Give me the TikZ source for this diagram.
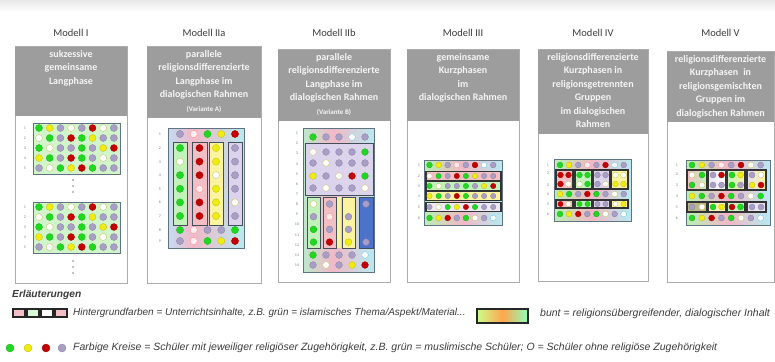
\documentclass[tikz,border=0pt]{standalone}
\usepackage{fontspec}
\setmainfont{Carlito}
\newfontfamily\legendfont{Liberation Sans}

\definecolor{cgreen}{HTML}{1FD81F}
\definecolor{cyellow}{HTML}{F0EC10}
\definecolor{cred}{HTML}{C40000}
\definecolor{clav}{HTML}{A99FC6}
\definecolor{hgray}{HTML}{9D9D9D}
\definecolor{bggreen}{HTML}{D2F4CA}
\definecolor{slate}{HTML}{5F7382}
\definecolor{bxgreen}{HTML}{C2F2BA}
\definecolor{bxpink}{HTML}{F2C0C4}
\definecolor{bxyellow}{HTML}{FBF3A0}
\definecolor{bxlav}{HTML}{DCD3EC}
\definecolor{bxblue}{HTML}{4C72C9}
\definecolor{bgblue}{HTML}{C4DCF2}
\definecolor{bgcyan}{HTML}{B8EAF0}
\definecolor{bgpink}{HTML}{F2B8C6}
\definecolor{bglime}{HTML}{B8F0B4}
\definecolor{txtgray}{HTML}{3C3C3C}

\tikzset{
  pupil/.style={line width=0.3pt},
  pg/.style={pupil, fill=cgreen, draw=cgreen!80!black},
  py/.style={pupil, fill=cyellow, draw=cyellow!80!black},
  pr/.style={pupil, fill=cred, draw=cred!80!black},
  pl/.style={pupil, fill=clav, draw=clav!80!black},
  po/.style={pupil, fill=white, draw=olive!55},
  pc/.style={pupil, fill=white, draw=cyan!70},
  pp/.style={pupil, fill=white!75!bgpink, draw=red!45},
  pn/.style={},
  panelbox/.style={draw=gray!65, line width=1pt, fill=white},
  headbox/.style={fill=hgray},
  title/.style={font=\fontsize{10.5}{12}\selectfont, text=txtgray},
  headtext/.style={font=\bfseries\fontsize{10}{13.5}\selectfont, text=white!90!hgray,
    align=center, inner sep=0pt},
  gridbox/.style={draw=slate, line width=0.9pt},
  colbox/.style={draw=slate!70!black, line width=0.8pt},
  darkbox/.style={draw=black!80, line width=1.2pt},
  num/.style={font=\fontsize{4}{4}\selectfont, text=gray, inner sep=0pt},
  legendhead/.style={font=\legendfont\bfseries\itshape\fontsize{10.2}{12}\selectfont,
    text=txtgray, inner sep=0pt},
  legendtext/.style={font=\legendfont\itshape\fontsize{10.5}{12}\selectfont,
    text=txtgray, inner sep=0pt},
  legsq/.style={draw=black!85, line width=1.6pt}
}

% x0, y0, dx, dy, radius, list of pupil styles
\newcommand{\pupils}[6]{%
  \foreach \col [count=\i from 0] in {#6}
    {\path[\col] ({#1+\i*#3},{#2+\i*#4}) circle[radius=#5pt];}}
% x, name prefix, list of y
\newcommand{\rownums}[3]{%
  \foreach \yy [count=\k] in {#3}
    {\node[num] (#2\k) at (#1,\yy) {\k};}}
% name, x1, x2, top, header bottom, bottom, title, header text
\newcommand{\panel}[8]{%
  \draw[panelbox] (#2,#4) rectangle (#3,#6);
  \fill[headbox] (#2,#4) rectangle (#3,#5);
  \node[title] (t#1) at ({(#2+#3)/2},33) {#7};
  \node[headtext, anchor=north] (h#1) at ({(#2+#3)/2},#4+3) {#8};}
% class grid of Modell I: top y, name prefix
\newcommand{\classgrid}[2]{%
  \path[gridbox, fill=bggreen] (33,#1) rectangle (120,#1+51);
  \rownums{25}{#2}{#1+5,#1+15,#1+25,#1+35,#1+45}
  \pupils{39}{#1+5}{10.7}{0}{3.5}{pg,py,pl,po,pl,pr,po,pl}
  \pupils{39}{#1+15}{10.7}{0}{3.5}{po,pg,pl,pr,pg,py,pl,pl}
  \pupils{39}{#1+25}{10.7}{0}{3.5}{pg,po,pl,pl,pg,pl,py,pr}
  \pupils{39}{#1+35}{10.7}{0}{3.5}{py,pg,pl,pr,pg,pl,po,pl}
  \pupils{39}{#1+45}{10.7}{0}{3.5}{pl,po,pg,py,pr,pg,pl,pl}}

\begin{document}
\begin{tikzpicture}[x=1pt,y=-1pt]
\useasboundingbox (0,0) rectangle (775,361);
\fill[white] (0,0) rectangle (775,361);
\shade[top color=gray!18, bottom color=white] (0,0) rectangle (775,12);

% panels
\panel{I}{15}{127}{47}{116}{283}{Modell I}{sukzessive\\gemeinsame\\Langphase}
\panel{IIa}{147}{261}{47}{118}{283}{Modell IIa}{parallele\\religionsdifferenzierte\\Langphase im\\dialogischen Rahmen\\{\fontsize{7}{9}\selectfont(Variante A)}}
\panel{IIb}{278}{390}{50}{121}{282}{Modell IIb}{parallele\\religionsdifferenzierte\\Langphase im\\dialogischen Rahmen\\{\fontsize{7}{9}\selectfont(Variante B)}}
\panel{III}{407}{519}{50}{121}{282}{Modell III}{gemeinsame\\Kurzphasen\\im\\dialogischen Rahmen}
\panel{IV}{538}{648}{50}{134}{281}{Modell IV}{religionsdifferenzierte\\Kurzphasen in\\religionsgetrennten\\Gruppen\\im dialogischen\\Rahmen}
\panel{V}{667}{774}{52}{122}{282}{Modell V}{religionsdifferenzierte\\Kurzphasen\enspace in\\religionsgemischten\\Gruppen im\\dialogischen Rahmen}

% Modell I
\classgrid{123}{nIa}
\classgrid{202}{nIb}
\foreach \yy in {180,186,192,261,267,273}
  \fill[gray] (73,\yy) circle[radius=0.8pt];

% Modell IIa
\shade[left color=bgblue, right color=bgpink] (168,128) rectangle (193,248);
\shade[left color=bgpink, right color=bgcyan] (193,128) rectangle (244,248);
\draw[gridbox] (168,128) rectangle (244,248);
\rownums{160}{nIIa}{134,148,162,175,189,202,216,230,241}
\draw[colbox, fill=bxgreen] (173,142) rectangle (187,225);
\draw[colbox, fill=bxpink] (192,142) rectangle (207,225);
\draw[colbox, fill=bxyellow] (209,142) rectangle (223,225);
\draw[colbox, fill=bxlav] (228,142) rectangle (242,225);
\pupils{180}{134}{13.75}{0}{3.6}{pl,pp,pg,py,pr}
\pupils{180}{148}{0}{13.6}{3.6}{pg,po,pg,pg,pg,pg}
\pupils{199.5}{148}{0}{13.6}{3.6}{pr,pr,pr,pp,pr,pr}
\pupils{216}{148}{0}{13.6}{3.6}{py,py,po,py,py,py}
\pupils{235}{148}{0}{13.6}{3.6}{pl,pl,pl,pl,po,pl}
\pupils{180}{230}{13.75}{0}{3.6}{pg,pp,pl,pl,pg}
\pupils{180}{241}{13.75}{0}{3.6}{pl,pp,pg,py,pr}

% Modell IIb
\shade[left color=bglime!60!bgblue, right color=bgpink] (303,128) rectangle (333,272);
\shade[left color=bgpink, right color=bgcyan] (333,128) rectangle (374,272);
\draw[gridbox] (303,128) rectangle (374,272);
\rownums{297}{nIIb}{133,143,153,164,174,184,194,204,214,224,235,245,255,265}
\draw[colbox, fill=bxlav] (305,143) rectangle (373,195);
\draw[colbox, fill=bxgreen] (307,197) rectangle (320,248);
\draw[colbox, fill=bxpink] (323,197) rectangle (336,248);
\fill[bxyellow] (337,197) rectangle (341,248);
\draw[colbox, fill=bxyellow] (342,197) rectangle (355,248);
\draw[colbox, fill=bxblue] (359,197) rectangle (373,248);
\pupils{313}{137}{13}{0}{3.4}{pg,pl,pl,pc,pl}
\pupils{313}{152}{13}{0}{3.4}{po,pl,pl,pl,pg}
\pupils{313}{163}{13}{0}{3.4}{pl,po,pl,pl,pl}
\pupils{313}{176}{13}{0}{3.4}{py,pl,po,pr,pg}
\pupils{313}{188}{13}{0}{3.4}{pl,po,pl,pl,po}
\pupils{313.5}{204}{0}{12.7}{3.4}{po,pl,pg,pg}
\pupils{329.5}{204}{0}{12.7}{3.4}{pl,pp,pl,pr}
\pupils{348.5}{204}{0}{12.7}{3.4}{pn,pl,pl,py}
\pupils{366}{204}{0}{12.7}{3.4}{pl,pn,pn,pl}
\pupils{313}{255}{13}{0}{3.4}{pg,pl,pl,pl,pc}
\pupils{313}{265}{13}{0}{3.4}{pl,po,pl,py,pr}

% Modell III
\shade[left color=bglime, right color=bgpink] (424,160) rectangle (463,225);
\shade[left color=bgpink, right color=bgcyan] (463,160) rectangle (502,225);
\draw[gridbox] (424,160) rectangle (502,225);
\rownums{419}{nIII}{165,176,186,196,207,218}
\draw[darkbox, fill=bxpink] (426,171.5) rectangle (501,180.5);
\draw[darkbox, fill=bxgreen] (426,181.5) rectangle (501,190.5);
\draw[darkbox, fill=bxyellow] (426,191.5) rectangle (501,200.5);
\draw[darkbox, fill=bxlav!50] (426,202.5) rectangle (501,211.5);
\pupils{429.5}{165}{9.1}{0}{2.9}{pg,py,pl,pp,pl,pr,pc,pl}
\pupils{429.5}{176}{9.1}{0}{2.7}{po,pg,pl,pr,pg,py,pl,pl}
\pupils{429.5}{186}{9.1}{0}{2.7}{pg,po,pl,pl,pg,pl,py,pr}
\pupils{429.5}{196}{9.1}{0}{2.7}{py,pg,pl,pr,pg,pl,pl,pl}
\pupils{429.5}{207}{9.1}{0}{2.7}{pl,po,pg,py,pr,pg,pl,pl}
\pupils{429.5}{218}{9.1}{0}{2.9}{pg,py,pr,pl,pg,po,pl,pc}

% Modell IV
\shade[left color=bglime, right color=bgpink] (554,159) rectangle (592,221);
\shade[left color=bgpink, right color=bgcyan] (592,159) rectangle (631,221);
\draw[gridbox] (554,159) rectangle (631,221);
\rownums{548}{nIV}{165,173,185,194,204,214}
\foreach \xa/\cc in {556/bxpink,575/bxgreen,593/bxlav,611/bxyellow}{
  \draw[darkbox, fill=\cc] (\xa,170) rectangle ++(17,19);
  \draw[darkbox, fill=\cc] (\xa,200) rectangle ++(17,8);}
\pupils{560}{165}{9.1}{0}{2.9}{pg,py,pl,pp,pl,pr,pc,pl}
\pupils{560.5}{175}{8}{0}{2.9}{pr,pr}
\pupils{560.5}{184}{8}{0}{2.9}{pr,po}
\pupils{579.5}{175}{8}{0}{2.9}{pg,pg}
\pupils{579.5}{184}{8}{0}{2.9}{po,pg}
\pupils{597.5}{175}{8}{0}{2.9}{pl,pl}
\pupils{597.5}{184}{8}{0}{2.9}{pl,po}
\pupils{615.5}{175}{8}{0}{2.9}{po,po}
\pupils{615.5}{184}{8}{0}{2.9}{py,py}
\pupils{560}{194}{9.1}{0}{2.9}{py,pg,pl,pr,pg,pl,po,pl}
\pupils{560.5}{204}{8}{0}{2.6}{pr,po}
\pupils{579.5}{204}{8}{0}{2.6}{pg,pg}
\pupils{597.5}{204}{8}{0}{2.6}{pl,pl}
\pupils{615.5}{204}{8}{0}{2.6}{po,py}
\pupils{560}{214}{9.1}{0}{2.9}{pg,py,pr,pl,pg,po,pl,pc}

% Modell V
\shade[left color=bglime, right color=bgpink] (686,160) rectangle (728,225);
\shade[left color=bgpink, right color=bgcyan] (728,160) rectangle (770,225);
\draw[gridbox] (686,160) rectangle (770,225);
\rownums{677}{nV}{165,174,185,196,207,218}
\shade[left color=bxpink, right color=bxgreen] (687,170) rectangle (707,190);
\shade[left color=bxlav!60, right color=white] (708,170) rectangle (726,190);
\shade[left color=bxgreen, right color=bxyellow] (727,170) rectangle (745,190);
\shade[left color=bxlav!70, right color=bxyellow] (747,170) rectangle (766,190);
\draw[darkbox] (687,170) rectangle (707,190) (708,170) rectangle (726,190)
  (727,170) rectangle (745,190) (747,170) rectangle (766,190);
\draw[darkbox, fill=gray!55!olive!60] (687,202) rectangle (707,212);
\draw[darkbox, fill=bxyellow!70] (708,202) rectangle (726,212);
\draw[darkbox, fill=bxgreen] (727,202) rectangle (745,212);
\draw[darkbox, fill=bxlav!60] (747,202) rectangle (766,212);
\pupils{692}{165}{9.8}{0}{3}{pg,py,pl,pp,pl,pr,po,pl}
\pupils{692}{175}{10}{0}{3}{po,pg}
\pupils{692}{185}{10}{0}{3}{pg,po}
\pupils{713}{175}{8.5}{0}{3}{pl,pr}
\pupils{713}{185}{8.5}{0}{3}{pl,pl}
\pupils{732}{175}{8.5}{0}{3}{pg,py}
\pupils{732}{185}{8.5}{0}{3}{pg,pl}
\pupils{752}{175}{9}{0}{3}{pl,po}
\pupils{752}{185}{9}{0}{3}{py,pr}
\pupils{692}{196}{9.8}{0}{3}{py,pg,pl,pr,pg,pl,po,pg}
\pupils{692}{207}{10}{0}{3}{pl,po}
\pupils{713}{207}{8.5}{0}{3}{pg,py}
\pupils{732}{207}{8.5}{0}{3}{pr,pg}
\pupils{752}{207}{9}{0}{3}{pl,pl}
\pupils{692}{218}{9.8}{0}{3}{pg,py,pr,pl,pg,po,pl,pc}

% Erlaeuterungen
\node[legendhead, anchor=west] (expl) at (12,295) {Erläuterungen};
\foreach \xa/\cc in {13/bxpink,27/bxgreen!60,41/white,55/bxpink}
  \draw[legsq, fill=\cc] (\xa,309) rectangle ++(12,8);
\node[legendtext, font=\legendfont\itshape\fontsize{10}{12}\selectfont, anchor=west]
  (hinter) at (73,313)
  {Hintergrundfarben = Unterrichtsinhalte, z.B. grün = islamisches Thema/Aspekt/Material...};
\path[legsq, line width=1.3pt, left color=yellow!55!green!45, right color=cyan!40!green!45,
  middle color=orange!70] (477,309) rectangle (528,323);
\node[legendtext, anchor=west] (bunt) at (540,314)
  {bunt = religionsübergreifender, dialogischer Inhalt};
\foreach \xa/\cc in {10/pg,28/py,46/pr,62/pl}
  \path[\cc] (\xa,348) circle[radius=4pt];
\node[legendtext, anchor=west] (kreise) at (73,348)
  {Farbige Kreise = Schüler mit jeweiliger religiöser Zugehörigkeit, z.B. grün = muslimische Schüler; O = Schüler ohne religiöse Zugehörigkeit};

\end{tikzpicture}
\end{document}
